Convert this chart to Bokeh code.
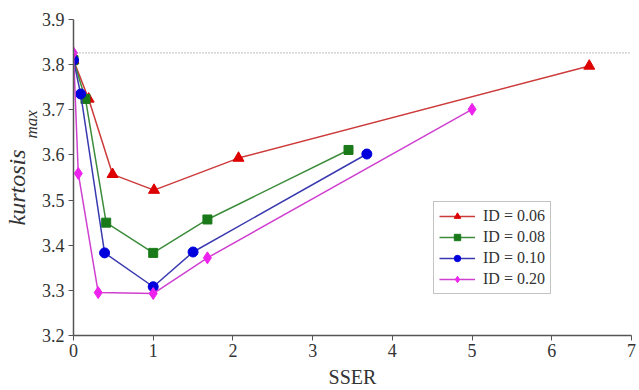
from bokeh.plotting import figure
from bokeh.models import Span, Legend, LegendItem, Range1d, Title
from bokeh.embed import file_html
from bokeh.resources import INLINE

# SSER vs. maximum kurtosis for four ID levels
sser_006 = [0.0, 0.19, 0.49, 1.01, 2.07, 6.47]
kurt_006 = [3.81, 3.724, 3.557, 3.522, 3.593, 3.797]

sser_008 = [0.0, 0.15, 0.41, 1.0, 1.68, 3.45]
kurt_008 = [3.81, 3.724, 3.45, 3.383, 3.457, 3.611]

sser_010 = [0.0, 0.09, 0.39, 1.0, 1.50, 3.68]
kurt_010 = [3.81, 3.735, 3.383, 3.308, 3.385, 3.602]

sser_020 = [0.0, 0.06, 0.31, 1.0, 1.68, 5.0]
kurt_020 = [3.826, 3.559, 3.295, 3.293, 3.372, 3.701]

reference_level = 3.826
legend_labels = ["ID = 0.06", "ID = 0.08", "ID = 0.10", "ID = 0.20"]
x_ticks = [0, 1, 2, 3, 4, 5, 6, 7]
y_ticks = [3.2, 3.3, 3.4, 3.5, 3.6, 3.7, 3.8, 3.9]

SERIF = "Liberation Serif"
INK = "#333333"

p = figure(width=639, height=390, output_backend="svg", toolbar_location=None,
           x_range=Range1d(0, 7), y_range=Range1d(3.2, 3.9),
           min_border_left=73, min_border_right=8, min_border_top=19,
           min_border_bottom=0)
p.outline_line_color = None
p.grid.grid_line_color = None
p.background_fill_color = "white"
p.border_fill_color = "white"

for ax in (p.xaxis[0], p.yaxis[0]):
    ax.axis_line_color = "#555555"
    ax.axis_line_width = 1.5
    ax.major_tick_line_color = "#555555"
    ax.minor_tick_line_color = "#555555"
    ax.major_tick_out = 5
    ax.major_tick_in = 0
    ax.minor_tick_out = 3
    ax.minor_tick_in = 0
    ax.major_label_text_font = SERIF
    ax.major_label_text_font_size = "18px"
    ax.major_label_text_color = INK

p.xaxis.ticker = x_ticks
p.xaxis.ticker.num_minor_ticks = 2
p.yaxis.ticker = y_ticks
p.yaxis.ticker.num_minor_ticks = 2
p.yaxis.major_label_overrides = {v: f"{v:.1f}" for v in y_ticks}
p.xaxis.major_label_standoff = 3
p.yaxis.major_label_standoff = 4

p.xaxis.axis_label = "SSER"
p.xaxis.axis_label_text_font = SERIF
p.xaxis.axis_label_text_font_style = "normal"
p.xaxis.axis_label_text_font_size = "20px"
p.xaxis.axis_label_text_color = INK
p.xaxis.axis_label_standoff = 6

# dotted reference level
p.add_layout(Span(location=reference_level, dimension="width",
                  line_color="#999999", line_dash="1 2", line_width=1.2))

series = [
    (sser_006, kurt_006, "#cc3a3a", "#dd0000", "triangle", 11),
    (sser_008, kurt_008, "#3c8c3c", "#1a7a1a", "square", 9),
    (sser_010, kurt_010, "#3a3ab0", "#0000dd", "circle", 10),
    (sser_020, kurt_020, "#d040d0", "#ee22ee", "diamond", 12),
]

items = []
for (xs, ys, lc, mc, mk, sz), lab in zip(series, legend_labels):
    ln = p.line(xs, ys, line_color=lc, line_width=1.5)
    sc = p.scatter(xs, ys, marker=mk, size=sz, fill_color=mc, line_color=mc)
    items.append(LegendItem(label=lab, renderers=[ln, sc]))

legend = Legend(items=items, location=(360, 41),
                label_text_font=SERIF, label_text_font_size="16px",
                label_text_color=INK,
                border_line_color="#888888", border_line_width=1.5,
                background_fill_color="white", background_fill_alpha=1.0,
                glyph_width=36, glyph_height=16, label_height=16,
                spacing=3, padding=5, margin=0, label_standoff=8)
p.add_layout(legend, "center")

# rotated y-axis title with subscript
p.add_layout(Title(text="max", align="left", offset=197,
                   text_font=SERIF, text_font_style="italic",
                   text_font_size="17px", text_color=INK,
                   standoff=-5), "left")
p.add_layout(Title(text="kurtosis", align="left", offset=110,
                   text_font=SERIF, text_font_style="italic",
                   text_font_size="24px", text_color=INK,
                   standoff=-15), "left")

open("out.html", "w").write(file_html(p, INLINE))
